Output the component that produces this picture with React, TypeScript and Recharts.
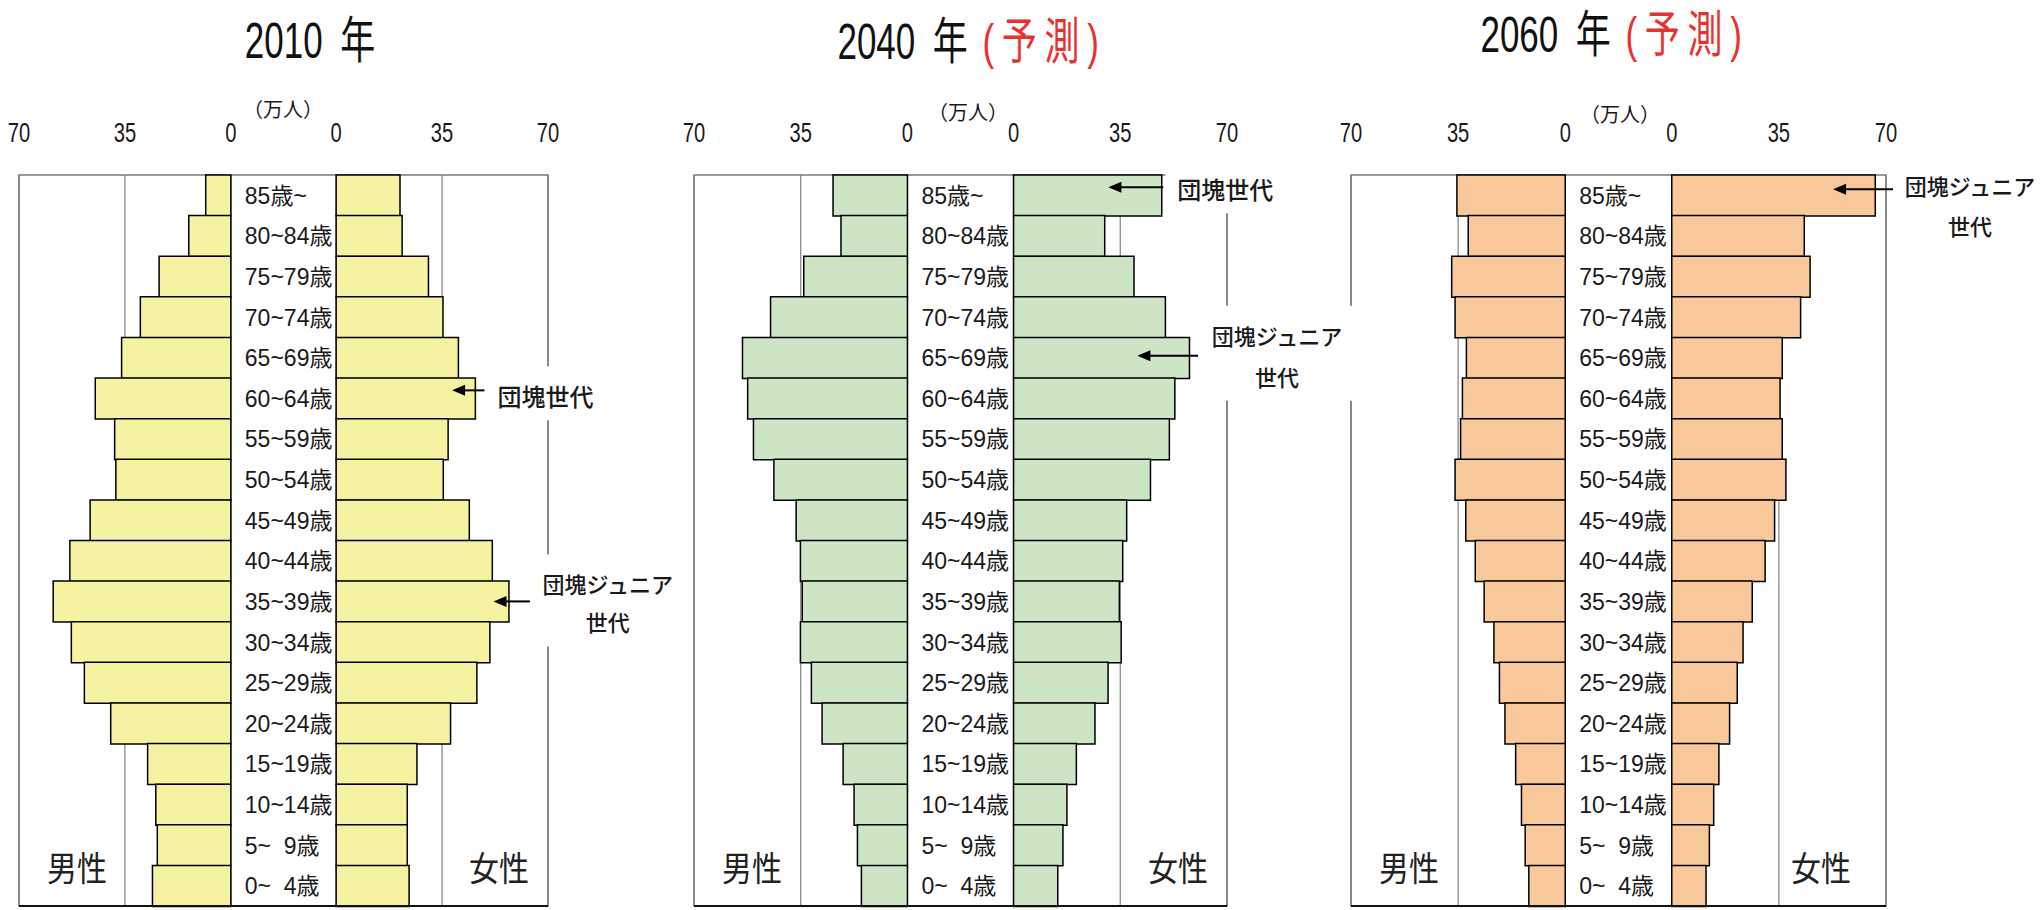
import { Bar, BarChart, CartesianGrid, LabelList, ReferenceArea, ReferenceLine, XAxis, YAxis } from "recharts";

// age groups, top row first
const AGES = [
  "85歳~", "80~84歳", "75~79歳", "70~74歳", "65~69歳", "60~64歳", "55~59歳", "50~54歳", "45~49歳",
  "40~44歳", "35~39歳", "30~34歳", "25~29歳", "20~24歳", "15~19歳", "10~14歳", "5~  9歳", "0~  4歳",
];

// 万人
const MALE_2010 = [8.3, 13.9, 23.7, 29.9, 36.1, 44.8, 38.4, 38.0, 46.5, 53.2, 58.7, 52.7, 48.4, 39.7, 27.5, 24.8, 24.3, 25.9];
const FEMALE_2010 = [21.1, 21.8, 30.5, 35.3, 40.4, 46.0, 37.0, 35.4, 44.0, 51.6, 57.1, 50.8, 46.5, 37.8, 26.7, 23.5, 23.5, 24.1];
const MALE_2040 = [24.4, 21.8, 34.0, 44.9, 54.1, 52.4, 50.5, 43.8, 36.5, 35.1, 34.5, 35.1, 31.5, 28.0, 21.1, 17.5, 16.4, 15.1];
const FEMALE_2040 = [48.6, 29.9, 39.5, 49.8, 57.7, 52.9, 51.1, 44.9, 37.1, 35.8, 34.7, 35.3, 31.0, 26.7, 20.6, 17.5, 16.2, 14.5];
const MALE_2060 = [35.4, 31.7, 37.1, 36.0, 32.3, 33.6, 34.2, 36.0, 32.5, 29.4, 26.5, 23.3, 21.5, 19.7, 16.2, 14.3, 13.1, 11.9];
const FEMALE_2060 = [66.5, 43.3, 45.2, 42.1, 36.1, 35.4, 36.1, 37.3, 33.6, 30.5, 26.3, 23.3, 21.4, 18.9, 15.4, 13.7, 12.3, 11.2];

const AXIS_LABELS = [70, 35, 0, 0, 35, 70];

// half width of the age-label band in the middle, in 万人
const GAP = 17.4;
const SPAN = 70 + GAP;
const TICKS = [-SPAN, -(35 + GAP), -GAP, GAP, 35 + GAP, SPAN];

const NUM_FONT = "'Liberation Sans', 'Noto Sans CJK JP', sans-serif";
const JP_FONT = "'Noto Sans CJK JP', sans-serif";

// arrows + text boxes (tail/tip are female-side values)
const NOTES_2010 = [
  { age: "60~64歳", tail: 49, tip: 38.3, lines: ["団塊世代"], fs: 24, align: "start", textDx: 13, lineDy: [-1], arrowDy: -8 },
  { age: "35~39歳", tail: 64, tip: 52, lines: ["団塊ジュニア", "世代"], fs: 22, align: "middle", textDx: 78, lineDy: [-16, 22], arrowDy: 0 },
];
const NOTES_2040 = [
  { age: "85歳~", tail: 49.1, tip: 31.1, lines: ["団塊世代"], fs: 24, align: "start", textDx: 14, lineDy: [-5], arrowDy: -8 },
  { age: "65~69歳", tail: 60.5, tip: 40.6, lines: ["団塊ジュニア", "世代"], fs: 22, align: "middle", textDx: 79, lineDy: [-21, 20], arrowDy: -2 },
];
const NOTES_2060 = [
  { age: "85歳~", tail: 72.3, tip: 52.7, lines: ["団塊ジュニア", "世代"], fs: 22, align: "middle", textDx: 77, lineDy: [-8, 32], arrowDy: -6 },
];

const PANELS = [
  { year: "2010", forecast: false, male: MALE_2010, female: FEMALE_2010, notes: NOTES_2010, fill: "#F5F2A1",
    left: 19, width: 529, extra: 150, z: 3, titleX: 310, titleY: 40, unitX: 283, unitY: 110, femaleX: 499 },
  { year: "2040", forecast: true, male: MALE_2040, female: FEMALE_2040, notes: NOTES_2040, fill: "#CDE5C5",
    left: 694, width: 533, extra: 140, z: 2, titleX: 972, titleY: 41, unitX: 968, unitY: 113, femaleX: 1178 },
  { year: "2060", forecast: true, male: MALE_2060, female: FEMALE_2060, notes: NOTES_2060, fill: "#F8C89A",
    left: 1351, width: 535, extra: 150, z: 1, titleX: 1615, titleY: 34, unitX: 1620, unitY: 115, femaleX: 1821 },
];

function TopTick({ x, index }: any) {
  return (
    <text transform={`translate(${x},132) scale(0.72,1)`} textAnchor="middle" dy="0.36em" fontSize={28} fontFamily={NUM_FONT} fill="#1a1a1a">
      {AXIS_LABELS[index]}
    </text>
  );
}

function AgeLabel(props: any) {
  const vb = props.viewBox ?? props;
  const right = Math.max(vb.x, vb.x + vb.width);
  return (
    <text x={right + 14} y={vb.y + vb.height / 2} dy="0.36em" fontSize={23} fontFamily={NUM_FONT} fill="#1a1a1a" style={{ whiteSpace: "pre" }}>
      {AGES[props.index]}
    </text>
  );
}

function Callout({ x1, y1, x2, note }: any) {
  const fs = note.fs;
  const ay = y1 + note.arrowDy;
  const w = Math.max(...note.lines.map((l: string) => l.length * fs));
  const left = note.align === "start" ? x1 + note.textDx : x1 + note.textDx - w / 2;
  const ys = note.lineDy.map((d: number) => y1 + d);
  return (
    <g>
      <rect x={left - 12} y={ys[0] - 31} width={w + 24} height={ys[ys.length - 1] - ys[0] + 54} fill="#fff" />
      <line x1={x1} y1={ay} x2={x2 + 10} y2={ay} stroke="#000" strokeWidth={2} />
      <polygon points={`${x2},${ay} ${x2 + 13},${ay - 5.5} ${x2 + 13},${ay + 5.5}`} fill="#000" />
      {note.lines.map((l: string, i: number) => (
        <text key={i} x={note.align === "start" ? left : left + w / 2} y={ys[i]} dy="0.36em" textAnchor={note.align}
          fontSize={fs} fontFamily={JP_FONT} fontWeight={500} fill="#1a1a1a">
          {l}
        </text>
      ))}
    </g>
  );
}

function Pyramid({ p }: any) {
  const rows = AGES.map((age, i) => ({ age, male: p.male[i], female: p.female[i] }));
  return (
    <div style={{ position: "absolute", left: p.left - 20, top: 0, zIndex: p.z }}>
      <BarChart layout="vertical" width={20 + p.width + p.extra} height={910} data={rows}
        margin={{ top: 145, right: p.extra, bottom: 3, left: 20 }} barCategoryGap={0}>
        <XAxis type="number" orientation="top" domain={[-SPAN, SPAN]} ticks={TICKS} allowDataOverflow
          axisLine={false} tickLine={false} height={30} tick={(t: any) => <TopTick {...t} />} />
        <XAxis xAxisId="b" type="number" orientation="bottom" domain={[-SPAN, SPAN]} allowDataOverflow
          tick={false} tickLine={false} height={1} axisLine={{ stroke: "#111", strokeWidth: 2 }} />
        <YAxis type="category" dataKey="age" hide />
        <YAxis yAxisId="f" type="category" dataKey="age" hide />
        <CartesianGrid horizontal={false} stroke="#8a8a8a" strokeWidth={1.3} />
        <ReferenceArea x1={-SPAN} x2={SPAN} fill="none" stroke="#7a7a7a" strokeWidth={1.5} ifOverflow="visible" />
        <Bar dataKey={(d: any) => [-(d.male + GAP), -GAP]} fill={p.fill} stroke="#000" strokeWidth={1.5} isAnimationActive={false}>
          <LabelList dataKey="age" content={AgeLabel} />
        </Bar>
        <Bar yAxisId="f" dataKey={(d: any) => [GAP, d.female + GAP]} fill={p.fill} stroke="#000" strokeWidth={1.5} isAnimationActive={false} />
        {p.notes.map((n: any, i: number) => (
          <ReferenceLine key={i} ifOverflow="visible"
            segment={[{ x: n.tail + GAP, y: n.age }, { x: n.tip + GAP, y: n.age }]}
            shape={(s: any) => <Callout {...s} note={n} />} />
        ))}
      </BarChart>
    </div>
  );
}

export default function App() {
  return (
    <div style={{ position: "absolute", left: 0, top: 0, width: 2041, height: 910, background: "#fff", overflow: "hidden" }}>
      {PANELS.map((p) => <Pyramid key={p.year} p={p} />)}
      <svg width={2041} height={910} style={{ position: "absolute", left: 0, top: 0, zIndex: 10, pointerEvents: "none" }}>
        {PANELS.map((p) => (
          <g key={p.year}>
            <text transform={`translate(${p.titleX},${p.titleY}) scale(0.7,1)`} textAnchor="middle" dy="0.36em"
              fontSize={50} fontFamily={NUM_FONT} fill="#111" style={{ whiteSpace: "pre" }}>
              {p.year + "\u2002年"}
              {p.forecast && <tspan fill="#E8312F" letterSpacing={11}>{"\u2009(予測)"}</tspan>}
            </text>
            <text x={p.unitX} y={p.unitY} textAnchor="middle" dy="0.36em" fontSize={20} fontFamily={JP_FONT} fill="#1a1a1a">
              （万人）
            </text>
            <text transform={`translate(${p.left + 58},869) scale(1,1.15)`} textAnchor="middle" dy="0.36em" fontSize={30} fontFamily={JP_FONT} fill="#222">
              男性
            </text>
            <text transform={`translate(${p.femaleX},869) scale(1,1.15)`} textAnchor="middle" dy="0.36em" fontSize={30} fontFamily={JP_FONT} fill="#222">
              女性
            </text>
          </g>
        ))}
      </svg>
    </div>
  );
}
